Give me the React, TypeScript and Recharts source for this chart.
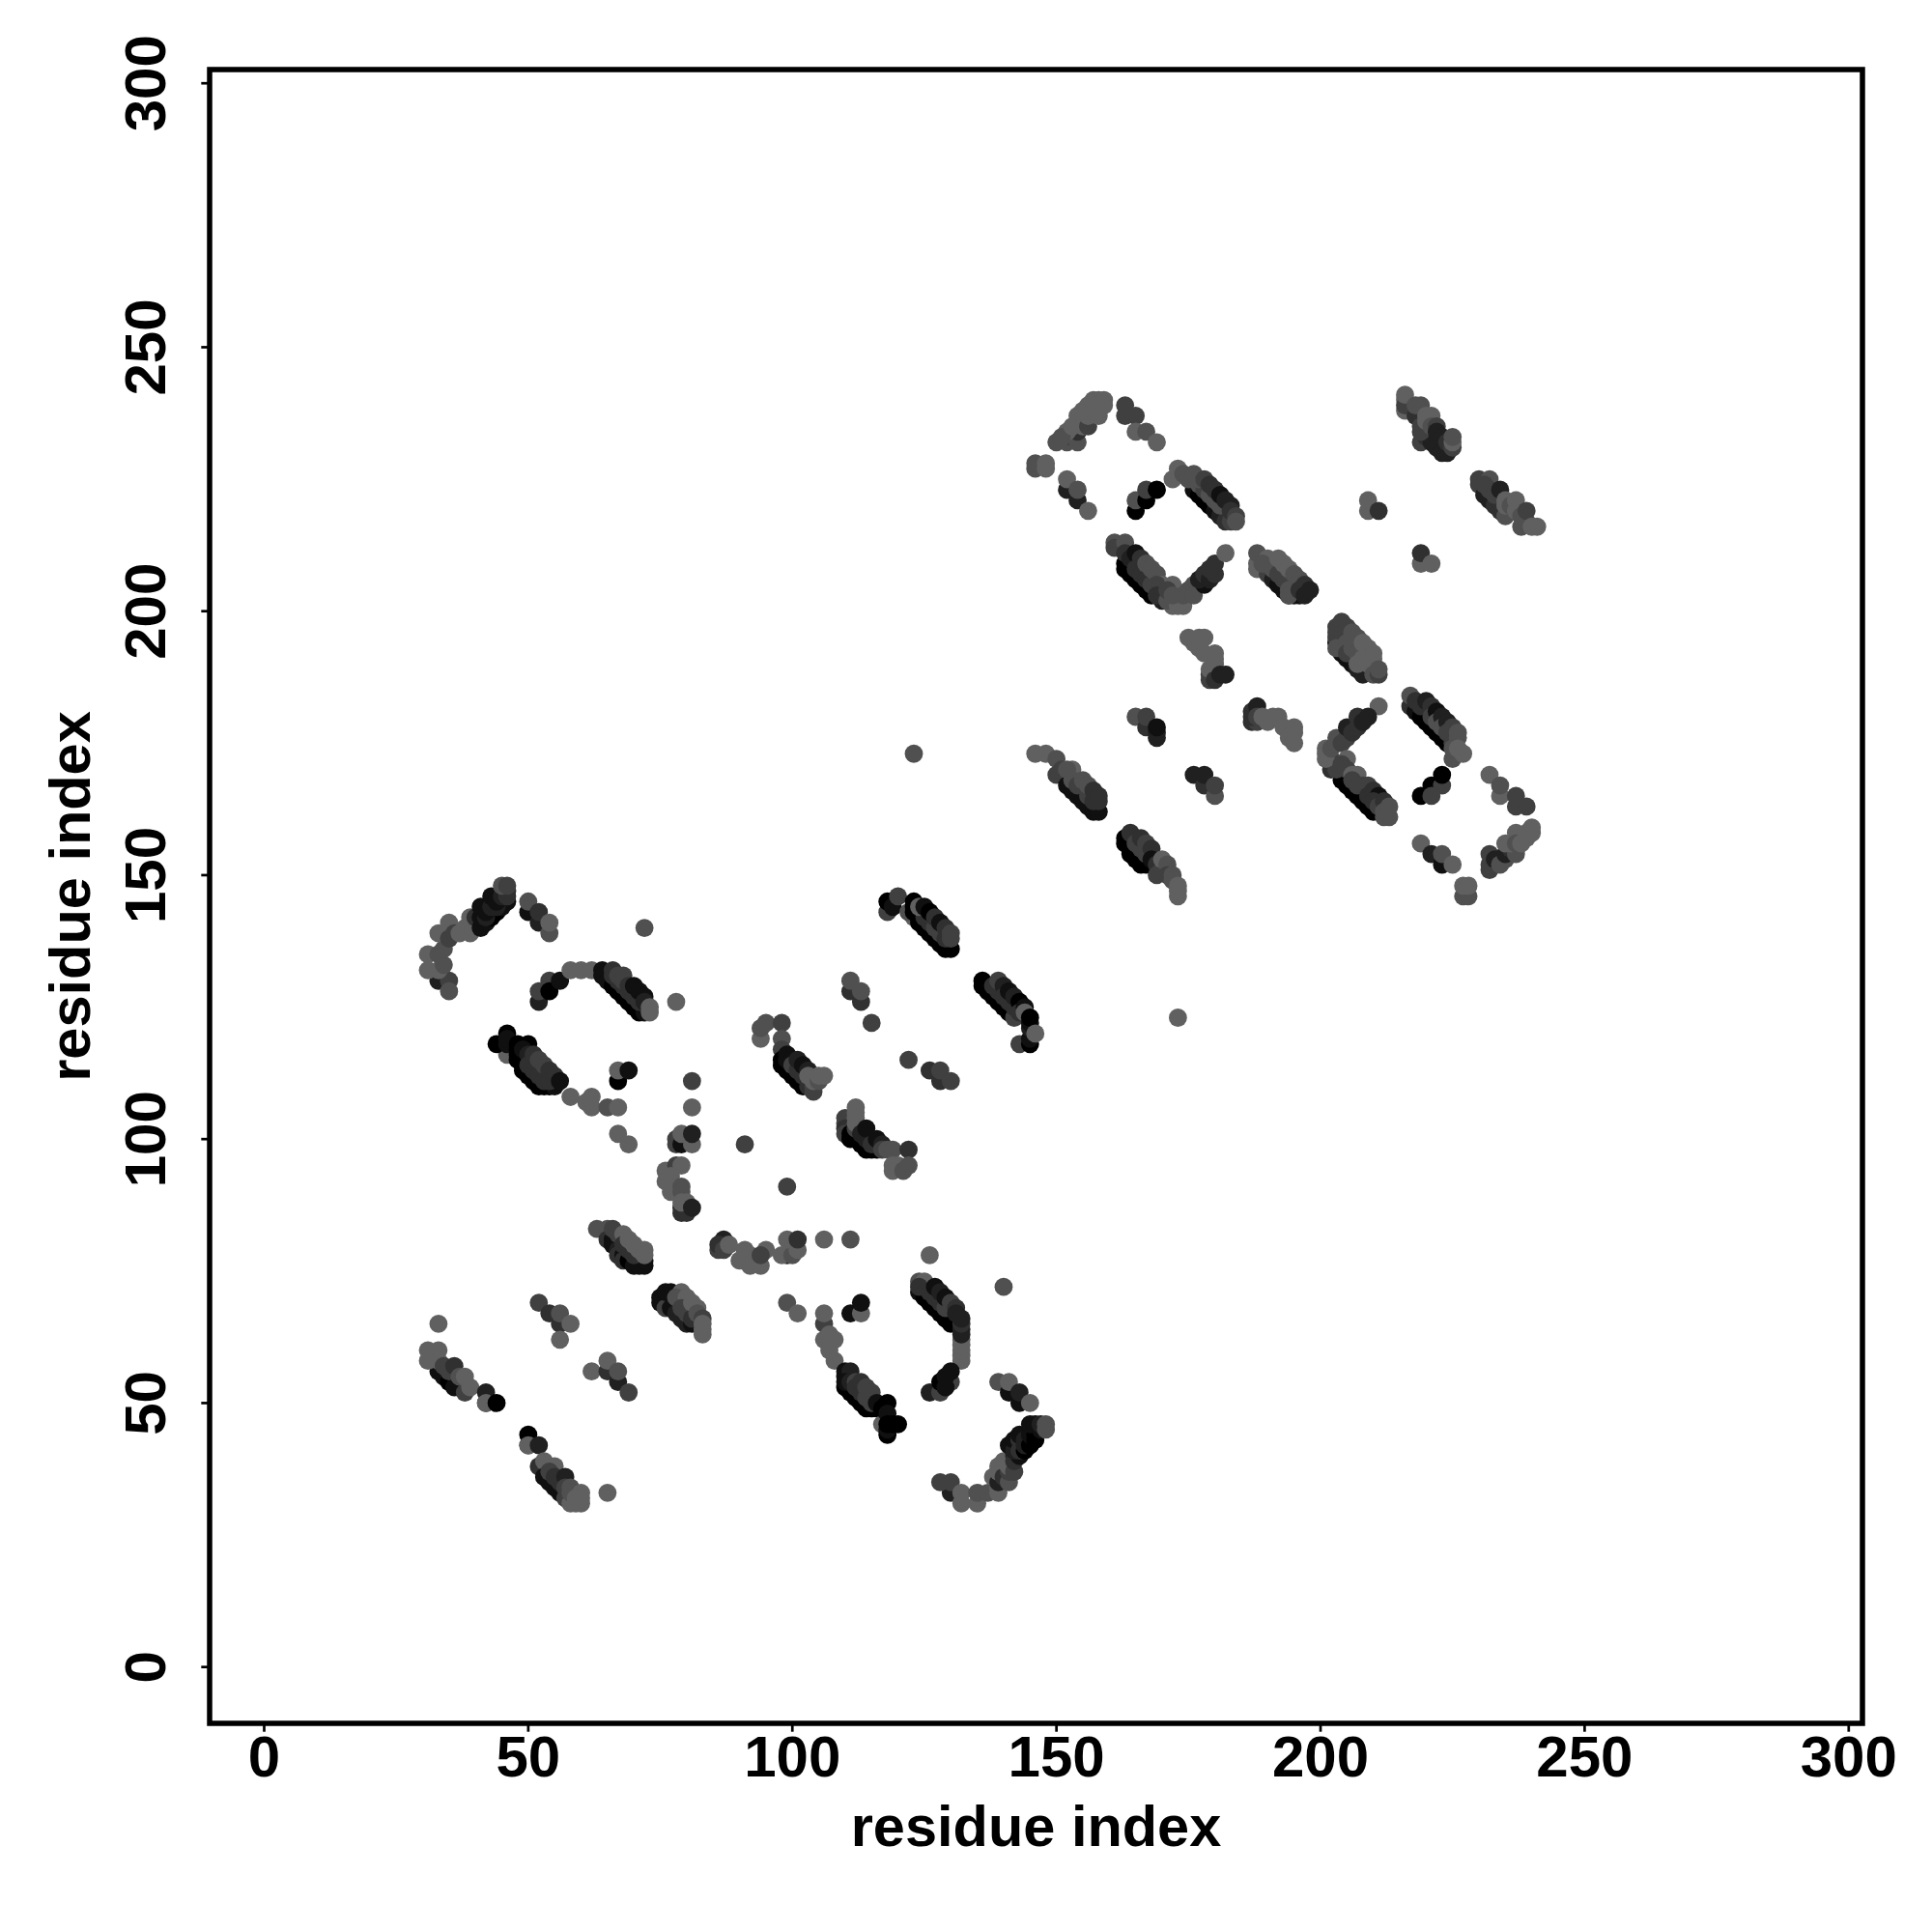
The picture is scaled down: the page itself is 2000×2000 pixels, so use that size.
import { ScatterChart, Scatter, XAxis, YAxis, ReferenceArea } from "recharts";

// contact map: each entry is [residue i, residue j, score]; low score draws dark
type Contact = [number, number, number];

const arcA: Contact[] = [
  [33,130,2],[35,130,4],[35,128,5],[31,132,6],[33,132,6],[34,133,5],[31,135,6],[33,135,5],[34,136,5],
  [34,139,1],[33,139,6],[35,138,4],[35,141,6],[36,139,4],[37,139,6],[38,140,6],[39,139,6],[39,142,6],
  [40,142,3],[41,140,1],[42,141,1],[43,142,0],[44,143,0],[45,144,1],[46,145,1],[41,142,1],[41,144,1],[42,142,2],[42,143,1],
  [43,144,2],[43,146,1],[44,144,2],[44,145,1],[45,146,2],[46,146,3],[46,147,3],[45,148,5],[46,148,4],
];
const arcA2: Contact[] = [[50,143,1],[52,141,2],[50,145,5],[52,143,3],[54,139,5],[54,141,6]];
const arcB: Contact[] = [
  [52,126,2],[52,128,4],[54,130,4],[54,128,0],[56,130,1],[58,132,6],[60,132,6],[62,132,6],
  [64,132,1],[64,131,1],[65,130,1],[66,129,0],[67,128,0],[68,127,0],[69,126,0],[70,125,0],[71,124,0],
  [72,124,1],[66,131,3],[67,130,3],[68,129,3],[69,128,3],[70,127,3],[71,126,3],
  [66,132,3],[67,131,4],[68,131,4],[68,130,4],[69,129,3],[70,129,1],[71,128,1],[72,127,1],[72,126,2],
  [73,125,6],[73,124,6],
];
const arcC: Contact[] = [
  [46,116,6],[44,118,0],[46,118,1],[46,120,0],[46,119,1],[48,117,0],[48,116,0],[48,115,0],[49,114,0],[49,113,0],[50,112,0],
  [51,111,0],[52,110,0],[53,110,0],[54,110,0],[55,110,1],[48,118,0],[50,118,0],[49,117,1],[50,116,2],[50,114,3],[51,113,3],[52,112,3],[53,111,3],[54,111,3],
  [51,116,3],[52,115,4],[53,114,4],[54,113,3],[55,112,3],[56,111,1],
  [58,108,6],[61,107,6],[62,108,6],[62,106,6],[65,106,5],[67,106,6],
];
const shortC: Contact[] = [[67,111,0],[67,113,6],[69,113,1],[67,101,6],[69,99,6]];
const loneA: Contact[] = [
  [72,140,5],[78,126,6],[81,111,4],[81,106,6],[91,99,4],[99,91,4],[123,173,5],[173,123,6],[65,33,6],[33,65,6],
];
const arcD: Contact[] = [
  [78,99,4],[78,100,4],[79,99,1],[79,101,6],[81,99,6],[81,101,2],[76,94,6],[78,95,4],[79,95,6],
  [76,92,6],[77,93,6],[77,90,6],[78,91,6],[79,91,5],[79,90,5],[79,86,3],[79,87,3],[80,86,3],[79,88,6],[80,88,6],[81,87,2],
];
const arcE: Contact[] = [
  [63,83,5],[65,83,5],[65,81,3],[66,81,1],[66,80,1],[67,79,2],[67,78,3],[68,78,1],[68,77,3],[69,77,0],[70,76,1],[71,77,0],[71,76,1],[72,76,1],[72,77,1],
  [66,83,4],[67,82,4],[68,82,6],[68,80,3],[69,79,3],[70,78,3],[69,81,6],[70,80,6],[71,79,6],[72,79,6],[72,78,6],
];
const arcF: Contact[] = [
  [75,70,1],[75,69,1],[77,71,1],[76,68,4],[77,68,1],[78,67,2],[79,66,2],[80,65,2],[81,65,1],[76,71,1],[79,71,6],[78,70,5],[80,70,6],[79,68,4],[80,67,4],[81,66,3],[81,69,6],[82,68,6],[82,67,5],[83,66,4],[83,63,6],[83,64,6],[83,65,6],
];
const arcG: Contact[] = [[52,69,4],[54,67,3],[56,65,3],[56,67,5],[58,65,6],[56,62,6]];
const arcH: Contact[] = [[62,56,6],[65,56,3],[65,58,6],[67,54,2],[67,56,5],[69,52,4]];
const arcI: Contact[] = [
  [33,56,1],[34,55,1],[35,54,0],[36,53,1],[38,52,4],[31,58,6],[31,60,6],[32,59,6],[33,60,6],[33,58,6],[34,57,4],[35,56,4],[36,57,3],[37,55,5],[38,55,6],[39,53,6],
  [42,50,2],[42,52,2],[42,50,6],[44,50,0],
];
const arcJ: Contact[] = [
  [50,42,2],[50,44,0],[50,42,6],[52,42,2],[52,38,3],[53,39,6],[53,36,1],[54,35,1],[55,34,1],[56,33,1],[55,38,6],[54,37,4],
  [55,36,3],[56,35,3],[57,36,2],[57,34,4],[58,34,5],[57,32,4],[58,31,6],[58,33,5],[60,33,6],[60,31,6],[59,32,6],[59,31,6],[60,32,6],
];
const arcK: Contact[] = [
  [87,81,2],[86,79,4],[86,80,3],[87,79,4],[88,80,6],[91,79,6],[90,77,6],[92,76,6],[92,77,6],[92,78,6],[93,77,6],[94,76,6],[95,79,6],[94,78,4],
  [99,78,2],[98,78,6],[100,78,5],[99,81,6],[101,79,6],[101,81,3],[106,81,6],[111,81,5],
];
const arcL: Contact[] = [
  [99,69,5],[101,67,6],[106,65,4],[106,67,6],[111,67,1],[113,67,6],[113,69,1],[106,62,6],[107,61,6],[107,63,6],[108,62,6],[107,60,6],[108,58,6],
];
const arcM: Contact[] = [
  [110,55,1],[110,53,0],[111,52,0],[112,51,0],[113,50,0],[114,49,0],[115,49,0],[116,49,0],[110,56,1],[111,56,2],[110,54,1],[111,54,2],[112,54,4],[112,53,3],[113,52,3],[114,51,4],[115,50,4],[113,54,3],[114,53,4],[115,52,4],
  [117,46,6],[116,50,1],[117,49,0],[118,50,0],[118,48,1],[118,44,0],[118,45,1],[118,46,0],[119,46,0],[120,46,0],
];
const arcN: Contact[] = [
  [124,71,1],[125,70,0],[126,69,0],[127,68,0],[128,67,0],[129,66,0],[130,65,0],[131,65,0],[124,73,5],[125,73,6],[124,72,3],[126,71,3],[127,70,3],[128,69,3],[129,68,4],
  [127,72,1],[128,71,2],[129,70,1],[130,69,4],[131,68,3],[131,67,2],
  [132,58,6],[132,59,6],[132,60,6],[132,61,6],[132,62,6],[132,64,2],[132,63,2],[132,65,3],[132,66,2],[126,52,2],[128,52,4],[130,54,4],[128,54,0],[129,53,1],[130,56,1],[129,55,1],
  [126,78,6],[140,72,5],
];
const arcO: Contact[] = [[139,54,5],[141,52,1],[141,54,6],[143,50,1],[143,52,2],[145,50,6]];
const arcP: Contact[] = [
  [130,33,2],[128,35,4],[130,35,4],[132,33,6],[132,31,6],[135,31,6],[135,33,5],[137,33,5],
  [139,33,6],[138,36,6],[139,34,6],[139,35,2],[139,37,6],[139,38,6],[140,36,3],[141,35,5],[141,37,4],[141,38,6],[140,39,6],[142,37,4],[142,40,2],[142,39,3],
  [141,42,1],[143,40,1],[142,41,2],[142,43,1],[143,41,3],[143,43,3],[143,44,1],[144,41,0],[144,43,2],[144,42,2],[145,42,0],[145,44,1],[146,43,0],[146,44,0],[145,46,1],[146,46,1],[147,45,1],[147,46,2],[148,46,5],[148,45,5],
];
const arcQ: Contact[] = [
  [118,143,4],[118,145,0],[119,144,1],[120,146,4],[123,142,6],[122,143,5],[123,143,0],[124,141,0],[125,140,0],[126,139,0],[127,138,0],[128,137,0],[129,136,0],[130,136,0],
  [123,145,0],[123,144,0],[125,142,3],[126,141,3],[127,140,4],[128,139,4],[129,138,3],[124,144,6],[125,144,1],[126,143,0],[127,142,3],[128,141,1],[129,140,3],[130,139,4],[130,138,4],
];
const arcR: Contact[] = [
  [136,129,0],[136,130,0],[137,128,0],[138,127,0],[139,126,0],[140,125,0],[141,124,0],[142,123,4],[143,118,4],[138,129,3],[139,128,3],[139,130,4],[140,129,2],[140,127,3],[141,126,3],[142,125,3],[141,128,1],[142,127,2],[143,126,0],
  [143,124,3],[144,125,1],[144,124,6],[145,118,0],[145,119,1],[145,121,2],[145,122,1],[145,123,0],[146,120,6],
];
const arcS: Contact[] = [
  [111,128,3],[111,130,5],[113,126,3],[113,128,5],[115,122,4],[122,115,4],[126,113,3],[128,111,3],[128,113,4],[130,111,4],
];
const arcT: Contact[] = [
  [94,119,6],[94,121,5],[95,122,5],[98,122,4],[98,119,5],[98,117,4],[98,115,0],[98,114,0],[99,113,0],[100,112,0],[101,111,0],[102,110,0],[99,116,1],[99,115,1],[100,115,1],
  [100,114,4],[101,113,3],[101,115,2],[102,112,3],[102,114,1],[103,110,3],[104,109,4],[104,110,4],[103,113,2],[103,112,6],[104,111,6],[105,111,5],[105,112,6],[106,112,6],
];
const arcU: Contact[] = [
  [110,103,4],[110,104,4],[110,102,3],[110,101,4],[111,101,0],[111,100,0],[112,100,0],[113,99,0],[114,98,0],[115,98,0],[116,98,0],[112,102,4],[112,104,6],[112,103,6],[112,105,6],[112,106,6],[113,101,2],[114,100,2],[114,102,1],[115,99,3],[116,100,1],
  [117,99,2],[117,98,4],[118,98,5],[119,98,5],[122,98,3],[119,95,6],[119,94,6],[120,95,6],[121,94,5],[122,95,5],
];
const arcV: Contact[] = [
  [150,232,5],[152,232,5],[153,233,4],[154,232,5],[154,234,3],[152,234,6],[151,233,5],[154,237,6],[153,235,6],[155,235,6],[156,235,4],[156,237,6],[155,238,6],
  [156,239,6],[157,238,6],[158,237,6],[158,238,6],[157,240,6],[158,240,6],[159,240,6],[159,239,6],
  [163,237,4],[163,239,4],[165,237,4],[165,234,6],[167,234,5],[169,232,6],
  [146,227,5],[146,228,5],[148,227,6],[148,228,6],
];
const arcW: Contact[] = [[152,223,2],[152,225,6],[154,221,2],[154,223,5],[156,219,6]];
const arcX: Contact[] = [[165,219,0],[165,221,5],[167,221,0],[167,223,4],[169,223,0]];
const arcY: Contact[] = [
  [172,225,6],[173,227,6],[176,224,0],[176,223,1],[177,222,0],[178,221,0],[179,220,0],[180,219,1],[181,218,2],[182,217,3],[183,217,4],
  [177,224,5],[178,223,4],[179,222,5],[180,221,5],[181,220,5],[174,226,5],[175,225,5],[176,226,5],[177,225,5],[178,225,4],[179,224,3],[180,223,3],[181,222,1],[182,221,2],[183,220,2],[183,219,3],[184,218,4],[184,217,5],
];
const arcZ: Contact[] = [
  [161,213,5],[161,212,4],[163,213,5],[163,209,0],[163,208,0],[164,207,0],[165,206,0],[166,205,0],[167,204,0],[168,203,0],[170,202,2],[163,211,3],[164,210,2],[165,211,1],[165,208,3],[166,207,3],[167,206,3],[168,205,4],
  [166,210,3],[167,209,5],[168,208,5],[169,207,5],[170,205,6],[169,205,4],[169,203,3],[172,201,6],[171,202,5],[173,201,6],[174,201,6],[172,205,6],[171,204,4],[172,203,5],[174,203,5],[176,205,5],[175,204,5],[176,203,5],
  [178,205,1],[177,206,2],[178,207,3],[179,206,2],[180,207,3],[180,209,3],[179,208,3],[182,211,6],
];
const arcAA: Contact[] = [
  [188,209,6],[188,208,6],[188,211,5],[190,207,4],[191,206,2],[192,205,1],[193,204,1],[194,203,1],[195,203,1],[196,203,1],[190,210,6],[189,209,5],[191,208,5],[192,207,4],[193,206,4],[192,210,6],[193,209,6],[194,208,6],[195,207,5],
  [194,204,5],[194,203,5],[196,206,5],[197,205,3],[196,204,3],[197,203,2],[198,204,2],
];
const arcAB: Contact[] = [[209,219,6],[209,221,6],[211,219,3],[219,209,6],[219,211,3],[221,209,6]];
const arcAC: Contact[] = [
  [216,238,6],[216,240,6],[216,239,4],[216,241,6],[218,237,3],[219,236,3],[219,232,4],[220,233,3],[221,232,2],[222,231,2],[223,230,2],[224,230,2],[219,234,4],[219,235,4],[219,239,5],[218,239,5],
  [220,237,6],[220,236,6],[221,237,6],[221,235,5],[222,235,4],[222,234,2],[223,233,2],[224,232,3],[225,231,4],[225,232,6],[225,233,5],
];
const arcAD: Contact[] = [
  [230,224,4],[230,225,4],[231,222,2],[232,221,2],[233,220,3],[234,219,3],[232,225,5],[231,224,4],[232,223,4],[233,222,4],[234,223,2],[235,218,5],[235,220,6],[235,221,6],[236,220,5],[237,221,6],[237,219,6],
  [238,218,5],[238,216,5],[239,217,5],[239,219,4],[240,216,6],[241,216,6],
];
const arcAE: Contact[] = [
  [175,195,6],[176,194,6],[177,195,6],[178,195,6],[177,193,6],[178,192,6],[179,187,4],[179,188,4],[179,189,6],[180,187,3],[180,190,6],[180,191,6],[180,192,6],[181,188,2],[182,188,2],
];
const arcAF: Contact[] = [
  [203,194,1],[204,192,1],[205,191,1],[206,190,1],[207,189,2],[208,188,2],[203,195,4],[203,196,4],[203,197,4],[203,193,5],[204,198,4],[205,197,4],[205,194,5],[205,192,4],[206,196,5],[206,193,5],[207,192,5],[207,195,5],[207,190,6],[208,191,6],[208,194,6],
  [209,193,6],[209,190,6],[210,192,6],[210,191,6],[210,189,6],[210,188,5],[211,188,4],[211,189,5],
];
const arcAG: Contact[] = [
  [217,182,3],[217,184,5],[218,181,1],[219,180,0],[220,179,0],[221,178,0],[222,177,0],[223,176,0],[224,175,0],[218,183,3],[219,182,3],[220,183,2],[221,182,3],[221,180,4],[222,181,1],[222,179,5],[223,180,2],[223,178,5],[224,179,2],[224,177,4],
  [225,178,4],[225,175,4],[225,172,5],[225,174,5],[226,176,5],[226,177,5],[226,174,6],[227,173,6],[211,182,6],
];
const arcAH: Contact[] = [
  [204,168,0],[205,167,0],[206,166,0],[207,165,0],[208,164,0],[209,163,0],[210,162,0],[202,170,3],[202,172,4],[203,170,4],[201,172,6],[201,174,6],[201,173,6],[202,174,5],
  [203,176,5],[203,175,5],[205,176,4],[204,175,4],[205,172,6],[204,171,4],[205,178,2],[206,177,3],[207,178,3],[207,180,3],[208,179,2],[209,180,2],
  [205,170,4],[206,169,6],[207,169,6],[206,168,4],[207,167,4],[208,167,4],[209,167,4],[209,165,3],[210,166,3],[211,165,1],[210,164,3],[211,163,4],[212,164,3],[213,161,5],[212,161,5],[212,162,5],[213,163,5],
];
const arcAI: Contact[] = [[219,165,0],[221,167,0],[223,167,4],[223,169,0],[221,165,4]];
const arcAJ: Contact[] = [[232,169,6],[234,165,6],[234,167,5],[237,163,4],[237,165,4],[239,163,4]];
const arcAK: Contact[] = [
  [232,151,4],[232,152,4],[232,154,4],[233,153,2],[234,152,5],[235,153,5],[235,154,2],[236,155,3],[237,154,5],[235,156,6],[236,156,6],[237,158,6],[237,156,5],[238,156,6],[239,157,6],[240,158,6],[240,159,6],[239,158,6],
];
const arcAL: Contact[] = [
  [219,156,6],[221,154,2],[223,152,1],[223,154,5],[225,152,6],[228,146,5],[227,146,5],[227,148,6],[228,148,6],
];
const arcAM: Contact[] = [
  [146,173,6],[148,173,6],[150,169,4],[150,172,5],[151,170,4],[152,167,1],[153,166,1],[154,165,1],[155,164,1],[156,163,1],[157,162,1],[158,162,1],[153,170,6],[152,170,5],[153,168,5],[154,167,4],[155,168,5],[156,165,4],[156,167,5],
  [157,166,3],[157,164,3],[158,164,3],[158,165,3],
];
const arcAN: Contact[] = [
  [163,156,0],[163,157,0],[164,155,0],[164,154,0],[165,153,0],[166,152,0],[167,152,0],[164,158,3],[165,156,4],[166,155,4],[167,154,4],[166,157,3],[167,156,4],[168,155,3],[168,153,1],[169,152,3],[169,150,4],[170,151,4],[170,153,6],[171,152,5],[171,150,4],[172,150,5],[172,149,5],[173,148,6],[173,146,6],[173,147,6],
];
const arcAO: Contact[] = [[165,180,5],[167,178,3],[167,180,4],[169,176,2],[169,177,2],[169,178,1]];
const arcAP: Contact[] = [[176,169,2],[178,167,3],[178,169,2],[180,165,5],[180,167,4]];
const arcAQ: Contact[] = [
  [187,179,3],[188,179,4],[187,180,3],[187,181,3],[188,182,2],[188,180,4],[189,180,6],[190,179,6],[191,180,6],[192,180,6],[193,178,6],[195,178,6],[194,176,6],[195,177,6],[195,175,6],
];

const contactGroups: Contact[][] = [
  arcA, arcA2, arcB, arcC, shortC, loneA, arcD, arcE, arcF, arcG, arcH, arcI, arcJ, arcK, arcL, arcM,
  arcN, arcO, arcP, arcQ, arcR, arcS, arcT, arcU, arcV, arcW, arcX, arcY, arcZ, arcAA, arcAB, arcAC,
  arcAD, arcAE, arcAF, arcAG, arcAH, arcAI, arcAJ, arcAK, arcAL, arcAM, arcAN, arcAO, arcAP, arcAQ,
];
const axisTicks = [0, 50, 100, 150, 200, 250, 300];

const xDomain: [number, number] = [-10.33, 302.6];
const yDomain: [number, number] = [-10.67, 302.6];

const font = "'Liberation Sans', Arial, sans-serif";

const ContactDot = (props: any) => {
  const level = props.payload.score * 16;
  return <circle cx={props.cx} cy={props.cy} r={9.4} fill={`rgb(${level},${level},${level})`} />;
};

const RotatedTick = ({ x, y, payload }: any) => (
  <text
    x={x - 37}
    y={y}
    transform={`rotate(-90 ${x - 37} ${y})`}
    textAnchor="middle"
    fontFamily={font}
    fontWeight="bold"
    fontSize={60}
    fill="#000"
  >
    {payload.value}
  </text>
);

export default function App() {
  return (
    <div style={{ position: "absolute", left: 0, top: 0, width: 2000, height: 2000, background: "#fff" }}>
      <ScatterChart width={2000} height={2000} margin={{ top: 72, right: 72, bottom: 0, left: 0 }}>
        <XAxis
          type="number"
          dataKey="x"
          domain={xDomain}
          ticks={axisTicks}
          interval={0}
          height={216}
          axisLine={false}
          tickSize={8.7}
          tickMargin={4}
          tickLine={{ stroke: "#000", strokeWidth: 2.7 }}
          tick={{ fill: "#000", fontFamily: font, fontWeight: "bold", fontSize: 60 }}
          label={{
            value: "residue index",
            position: "insideBottom",
            offset: 89,
            style: { fill: "#000", fontFamily: font, fontWeight: "bold", fontSize: 59.5 },
          }}
        />
        <YAxis
          type="number"
          dataKey="y"
          domain={yDomain}
          ticks={axisTicks}
          interval={0}
          width={217}
          axisLine={false}
          tickSize={8.7}
          tickMargin={0}
          tickLine={{ stroke: "#000", strokeWidth: 2.7 }}
          tick={<RotatedTick />}
          label={{
            value: "residue index",
            angle: -90,
            position: "insideLeft",
            offset: 72,
            style: { fill: "#000", fontFamily: font, fontWeight: "bold", fontSize: 59.5, textAnchor: "middle" },
          }}
        />
        {contactGroups.map((group, i) => (
          <Scatter
            key={i}
            data={group.map(([x, y, score]) => ({ x, y, score }))}
            shape={ContactDot}
            isAnimationActive={false}
          />
        ))}
        <ReferenceArea
          x1={xDomain[0]}
          x2={xDomain[1]}
          y1={yDomain[0]}
          y2={yDomain[1]}
          ifOverflow="visible"
          fill="none"
          stroke="#000"
          strokeWidth={5.5}
          fillOpacity={0}
          strokeOpacity={1}
        />
      </ScatterChart>
    </div>
  );
}
